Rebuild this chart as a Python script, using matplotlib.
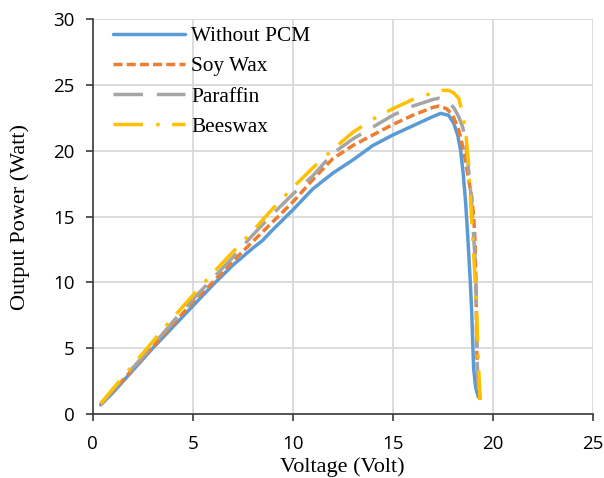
import matplotlib
matplotlib.use("Agg")
import matplotlib.pyplot as plt

# Data
v_without = [0.4, 1, 2, 3, 4, 5, 6, 7, 8, 8.5, 9, 10, 11, 12, 13, 14, 15, 16, 17, 17.4, 17.8,
             18.05, 18.25, 18.4, 18.53, 18.65, 18.78, 18.87, 18.95, 19.0, 19.05, 19.15, 19.28]
p_without = [0.7, 1.6, 3.3, 5.0, 6.6, 8.2, 9.8, 11.3, 12.6, 13.2, 14.0, 15.5, 17.1, 18.3, 19.3, 20.4, 21.2, 21.9, 22.6, 22.85, 22.7,
             22.1, 21.2, 20.0, 18.2, 16.0, 12.8, 10.3, 7.8, 5.5, 3.4, 2.0, 1.3]

v_soy = [0.4, 1, 2, 3, 4, 5, 6, 7, 8, 9, 10, 11, 12, 13, 14, 15, 16, 17, 17.3, 17.7,
         18.0, 18.3, 18.55, 18.8, 18.95, 19.05, 19.12, 19.17, 19.2, 19.25, 19.37]
p_soy = [0.7, 1.7, 3.4, 5.1, 6.8, 8.5, 10.0, 11.6, 13.1, 14.6, 16.1, 17.8, 19.4, 20.4, 21.2, 22.0, 22.7, 23.3, 23.4, 23.2,
         22.7, 21.6, 20.0, 17.8, 16.5, 15.0, 13.0, 9.0, 5.0, 3.0, 1.05]

v_par = [0.4, 1, 2, 3, 4, 5, 6, 7, 8, 9, 10, 11, 12, 13, 14, 15, 16, 17, 17.3, 17.7,
         18.05, 18.3, 18.5, 18.65, 18.8, 18.95, 19.05, 19.15, 19.2, 19.23, 19.28]
p_par = [0.7, 1.8, 3.5, 5.2, 7.0, 8.7, 10.3, 11.9, 13.6, 15.2, 16.7, 18.1, 19.8, 20.9, 21.8, 22.7, 23.4, 23.9, 24.0, 23.8,
         23.3, 22.6, 21.8, 20.8, 18.5, 16.0, 13.4, 11.0, 7.0, 3.5, 1.8]

v_bees = [0.4, 1, 2, 3, 4, 5, 6, 7, 8, 9, 10, 11, 12, 13, 14, 15, 16, 17, 17.5, 17.8,
          18.05, 18.3, 18.5, 18.65, 18.78, 18.9, 19.03, 19.12, 19.2, 19.27, 19.33, 19.37]
p_bees = [0.8, 1.9, 3.7, 5.5, 7.3, 9.0, 10.7, 12.3, 13.9, 15.6, 17.2, 18.7, 20.1, 21.4, 22.4, 23.2, 23.9, 24.4, 24.6, 24.6,
          24.4, 24.0, 22.8, 21.4, 19.3, 16.0, 12.7, 10.2, 7.7, 4.5, 2.5, 1.0]

labels = ["Without PCM", "Soy Wax", "Paraffin", "Beeswax"]
x_ticks = [0, 5, 10, 15, 20, 25]
y_ticks = [0, 5, 10, 15, 20, 25, 30]

fig = plt.figure(figsize=(6.04, 4.78), dpi=100)
ax = fig.add_axes([92.7 / 604, 64 / 478, 500 / 604, 394.7 / 478])

lw = 2.5
ax.plot(v_without, p_without, color="#5B9BD5", lw=lw, label=labels[0],
        solid_capstyle="round", solid_joinstyle="round", zorder=3)
ax.plot(v_soy, p_soy, color="#ED7D31", lw=lw, dashes=(2.6, 1.2), label=labels[1],
        dash_joinstyle="round", zorder=4)
ax.plot(v_par, p_par, color="#A5A5A5", lw=lw, dashes=(8.5, 4.0), label=labels[2],
        dash_joinstyle="round", zorder=5)
ax.plot(v_bees, p_bees, color="#FFC000", lw=lw, dashes=(8.5, 3.8, 1.0, 3.6), label=labels[3],
        dash_joinstyle="round", zorder=6)

ax.set_xlim(0, 25)
ax.set_ylim(0, 30)
ax.set_xticks(x_ticks)
ax.set_yticks(y_ticks)
ax.grid(True, color="#D9D9D9", lw=1.3)
ax.set_axisbelow(True)
for s in ["top", "right"]:
    ax.spines[s].set_visible(False)
for s in ["left", "bottom"]:
    ax.spines[s].set_color("#3A3A3A")
    ax.spines[s].set_linewidth(1.2)
ax.tick_params(direction="out", length=5, width=1.2, color="#3A3A3A", labelsize=13.5)
for t in ax.get_xticklabels() + ax.get_yticklabels():
    t.set_family("Open Sans")
ax.tick_params(axis="x", pad=10)
ax.tick_params(axis="y", pad=8)

ax.set_xlabel("Voltage (Volt)", fontsize=16, family="Liberation Serif", labelpad=3)
ax.set_ylabel("Output Power (Watt)", fontsize=16, family="Liberation Serif", labelpad=17)

leg = ax.legend(loc="upper left", bbox_to_anchor=(0.002, 1.031), frameon=False,
                prop={"family": "Liberation Serif", "size": 15.3},
                handlelength=3.4, handletextpad=0.3, labelspacing=0.49)

fig.savefig("out.png", dpi=100)
